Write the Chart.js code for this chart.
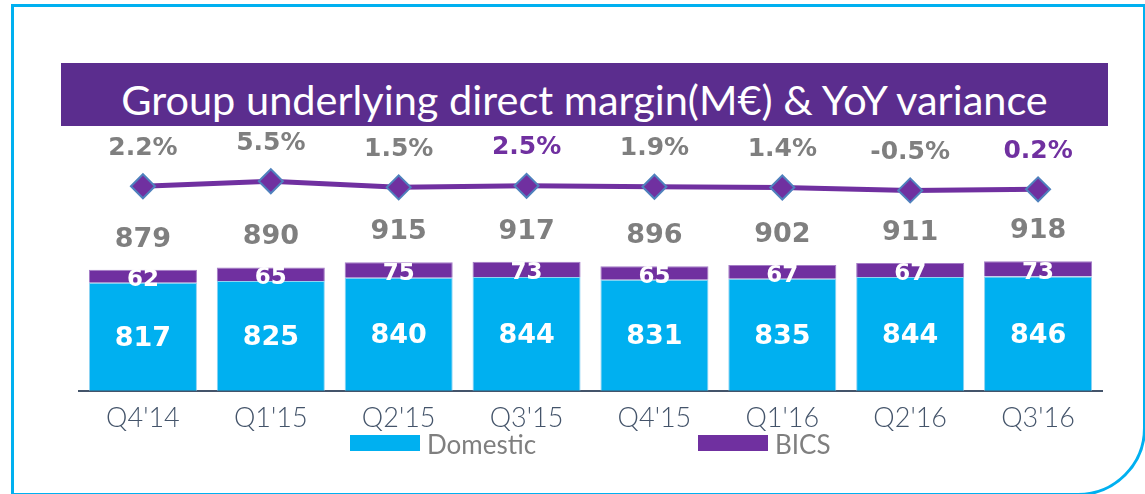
<!DOCTYPE html>
<html>
<head>
<meta charset="utf-8">
<script src="https://cdn.jsdelivr.net/npm/chart.js@4.4.1/dist/chart.umd.min.js"></script>
<style>
  body { margin: 0; background: #fff; width: 1145px; height: 494px; overflow: hidden; position: relative; font-family: Lato, sans-serif; }
  #frame { position: absolute; left: 11px; top: 4px; width: 1135px; height: 492px; box-sizing: border-box; border: 3px solid #00b0f0; border-bottom-right-radius: 68px; }
  #title { position: absolute; left: 61px; top: 63px; width: 1047px; height: 63px; background: #5b2d8e; color: #fff; font-size: 41.5px; line-height: 72px; text-align: center; white-space: nowrap; }
  #wrap { position: absolute; left: 0; top: 0; width: 1145px; height: 494px; }
  .lg-box { position: absolute; top: 435px; width: 70px; height: 16px; }
  .lg-text { position: absolute; top: 431px; font-size: 26px; line-height: 26px; color: #7f7f7f; }
</style>
</head>
<body>
<div id="frame"></div>
<div id="title"></div>
<div id="wrap"><canvas id="chart"></canvas></div>
<div class="lg-box" id="lgBox0" style="left:350px"></div>
<div class="lg-text" id="lgText0" style="left:427px"></div>
<div class="lg-box" id="lgBox1" style="left:698px"></div>
<div class="lg-text" id="lgText1" style="left:775px"></div>
<script>
const titleText = "Group underlying direct margin(M€) & YoY variance";
const quarters = ["Q4'14", "Q1'15", "Q2'15", "Q3'15", "Q4'15", "Q1'16", "Q2'16", "Q3'16"];
const domestic = [817, 825, 840, 844, 831, 835, 844, 846];
const bics = [62, 65, 75, 73, 65, 67, 67, 73];
const totals = [879, 890, 915, 917, 896, 902, 911, 918];
const yoy = [2.2, 5.5, 1.5, 2.5, 1.9, 1.4, -0.5, 0.2];
const highlightQuarters = ["Q3'15", "Q3'16"];
const seriesNames = ["Domestic", "BICS"];
const seriesColors = ["#00b0f0", "#7030a0"];

document.getElementById("title").textContent = titleText;
for (let i = 0; i < seriesNames.length; i++) {
  document.getElementById("lgBox" + i).style.background = seriesColors[i];
  document.getElementById("lgText" + i).textContent = seriesNames[i];
}

const numFont = '"DejaVu Sans", sans-serif';

// value labels drawn next to the bars and the line points
const valueLabels = {
  id: "valueLabels",
  afterDatasetsDraw(chart) {
    const ctx = chart.ctx;
    const area = chart.chartArea;
    const domMeta = chart.getDatasetMeta(0).data;
    const bicsMeta = chart.getDatasetMeta(1).data;
    const lineMeta = chart.getDatasetMeta(2).data;
    ctx.save();
    ctx.textAlign = "center";
    ctx.textBaseline = "middle";
    for (let i = 0; i < quarters.length; i++) {
      let d = domMeta[i], b = bicsMeta[i], p = lineMeta[i];
      ctx.fillStyle = "#ffffff";
      ctx.font = "bold 27px " + numFont;
      ctx.fillText(domestic[i], d.x, (d.y + Math.min(d.base, area.bottom)) / 2 + 2);
      ctx.font = "bold 23px " + numFont;
      ctx.fillText(bics[i], b.x, (b.y + b.base) / 2 + 4);
      ctx.fillStyle = "#7f7f7f";
      ctx.font = "bold 27px " + numFont;
      ctx.fillText(totals[i], b.x, b.y - 30);
      ctx.font = "bold 25px " + numFont;
      ctx.fillStyle = highlightQuarters.includes(quarters[i]) ? "#7030a0" : "#7f7f7f";
      ctx.fillText(yoy[i].toFixed(1) + "%", p.x, p.y - 38);
    }
    ctx.restore();
  }
};

new Chart(document.getElementById("chart"), {
  data: {
    labels: quarters,
    datasets: [
      {
        type: "bar",
        label: seriesNames[0],
        data: domestic,
        backgroundColor: seriesColors[0],
        borderColor: "#8fd3f2",
        borderWidth: 1,
        barPercentage: 0.845,
        categoryPercentage: 1,
        yAxisID: "y",
        clip: 0
      },
      {
        type: "bar",
        label: seriesNames[1],
        data: bics,
        backgroundColor: seriesColors[1],
        borderColor: "#a47cc6",
        borderWidth: 1,
        barPercentage: 0.845,
        categoryPercentage: 1,
        yAxisID: "y",
        clip: 0
      },
      {
        type: "line",
        label: "YoY variance",
        data: yoy,
        borderColor: "#7030a0",
        borderWidth: 5,
        pointStyle: "rectRot",
        pointRadius: 12,
        pointBackgroundColor: "#7030a0",
        pointBorderColor: "#4f81bd",
        pointBorderWidth: 2,
        yAxisID: "y2"
      }
    ]
  },
  options: {
    responsive: true,
    maintainAspectRatio: false,
    animation: false,
    layout: { padding: { left: 79, right: 43, top: 140, bottom: 49 } },
    plugins: { legend: { display: false }, tooltip: { enabled: false } },
    scales: {
      x: {
        stacked: true,
        grid: { display: false, drawTicks: false },
        border: { display: true, color: "#44546a", width: 2 },
        ticks: { color: "#44546a", padding: 11, font: { family: "Lato", size: 27, weight: 300 } }
      },
      y: { display: false, stacked: true, min: 300, max: 1500 },
      y2: { display: false, stacked: false, min: -131.6, max: 32.5 }
    }
  },
  plugins: [valueLabels]
});
</script>
</body>
</html>
